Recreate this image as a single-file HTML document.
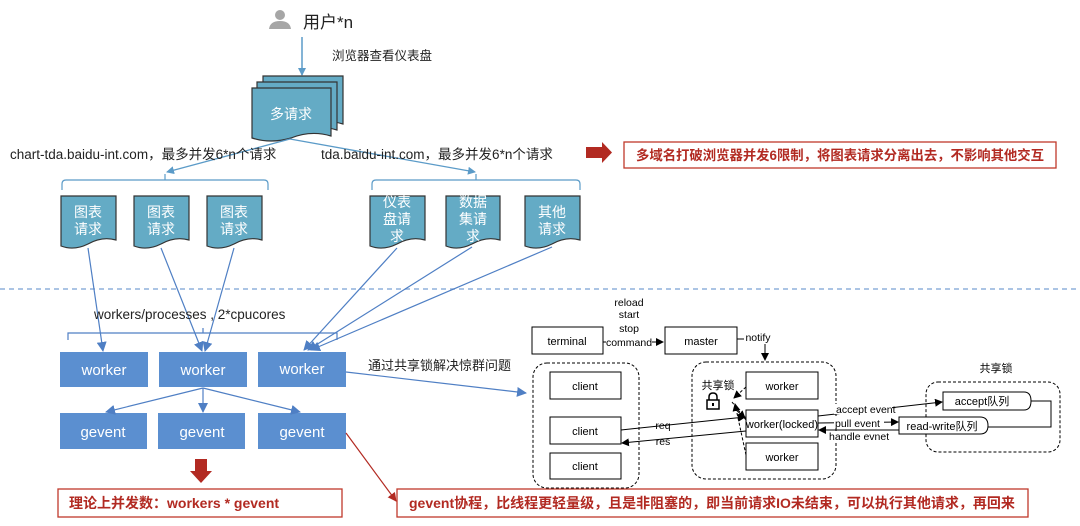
<!DOCTYPE html>
<html><head><meta charset="utf-8"><style>
html,body{margin:0;padding:0;background:#fff;}
svg{display:block;font-family:"Liberation Sans","Noto Sans CJK SC",sans-serif;}
</style></head><body>
<svg width="1080" height="526" viewBox="0 0 1080 526" xmlns="http://www.w3.org/2000/svg">
<defs>
<marker id="ab" markerWidth="8" markerHeight="8" refX="7" refY="4" orient="auto" markerUnits="userSpaceOnUse"><path d="M0,0 L8,4 L0,8 z" fill="#5b9bc8"/></marker>
<marker id="ab2" markerWidth="10" markerHeight="10" refX="9" refY="5" orient="auto" markerUnits="userSpaceOnUse"><path d="M0,0 L10,5 L0,10 z" fill="#4f7fc4"/></marker>
<marker id="ak" markerWidth="8" markerHeight="8" refX="7" refY="4" orient="auto" markerUnits="userSpaceOnUse"><path d="M0,0 L8,4 L0,8 z" fill="#000"/></marker>
<marker id="ar" markerWidth="9" markerHeight="9" refX="8" refY="4.5" orient="auto" markerUnits="userSpaceOnUse"><path d="M0,0 L9,4.5 L0,9 z" fill="#b22a22"/></marker>
</defs>

<circle cx="280" cy="15" r="5" fill="#a6a6a6"/>
<path d="M269,29 Q270,21 280,21 Q290,21 291,29 z" fill="#a6a6a6"/>
<text x="303" y="28" font-size="17" fill="#222">用户*n</text>
<line x1="302" y1="37" x2="302" y2="75" stroke="#5b9bc8" stroke-width="1.5" marker-end="url(#ab)"/>
<text x="332" y="60" font-size="12.5" fill="#222">浏览器查看仪表盘</text>

<path d="M263,76 H343 V124 Q323,118 303,126 Q283,132 263,126 z" fill="#64abc5" stroke="#333" stroke-width="1.2"/>
<path d="M257,82 H337 V130 Q317,124 297,132 Q277,138 257,132 z" fill="#64abc5" stroke="#333" stroke-width="1.2"/>
<path d="M252,88 H331 V136 Q311,130 291,138 Q271,144 252,138 z" fill="#64abc5" stroke="#333" stroke-width="1.2"/>
<text x="291" y="119" font-size="14" fill="#fff" text-anchor="middle">多请求</text>

<line x1="290" y1="139" x2="167" y2="172" stroke="#5b9bc8" stroke-width="1.3" marker-end="url(#ab)"/>
<line x1="290" y1="139" x2="475" y2="172" stroke="#5b9bc8" stroke-width="1.3" marker-end="url(#ab)"/>
<text x="10" y="159" font-size="13.5" fill="#222">chart-tda.baidu-int.com，最多并发6*n个请求</text>
<text x="321" y="159" font-size="13.5" fill="#222">tda.baidu-int.com，最多并发6*n个请求</text>

<path d="M62,190 V184 Q62,180 66,180 H264 Q268,180 268,184 V190 M165,180 V174" fill="none" stroke="#5b9bc8" stroke-width="1.2"/>
<path d="M372,190 V184 Q372,180 376,180 H576 Q580,180 580,184 V190 M476,180 V174" fill="none" stroke="#5b9bc8" stroke-width="1.2"/>

<g fill="#64abc5" stroke="#333" stroke-width="1.2">
<path d="M61,196 H116 V240 Q102,236 88,244 Q74,251 61,246 z"/>
<path d="M134,196 H189 V240 Q175,236 161,244 Q147,251 134,246 z"/>
<path d="M207,196 H262 V240 Q248,236 234,244 Q220,251 207,246 z"/>
<path d="M370,196 H425 V240 Q411,236 397,244 Q383,251 370,246 z"/>
<path d="M446,196 H500 V240 Q486,236 472,244 Q458,251 446,246 z"/>
<path d="M525,196 H580 V240 Q566,236 552,244 Q538,251 525,246 z"/>
</g>
<g font-size="14" fill="#fff" text-anchor="middle">
<text x="88" y="217">图表</text><text x="88" y="234">请求</text>
<text x="161" y="217">图表</text><text x="161" y="234">请求</text>
<text x="234" y="217">图表</text><text x="234" y="234">请求</text>
<text x="397" y="207">仪表</text><text x="397" y="224">盘请</text><text x="397" y="241">求</text>
<text x="473" y="207">数据</text><text x="473" y="224">集请</text><text x="473" y="241">求</text>
<text x="552" y="217">其他</text><text x="552" y="234">请求</text>
</g>

<line x1="0" y1="289" x2="1080" y2="289" stroke="#8fb0dc" stroke-width="1.5" stroke-dasharray="5,4"/>

<g stroke="#4f7fc4" stroke-width="1.2" marker-end="url(#ab2)">
<line x1="88" y1="248" x2="103" y2="351"/>
<line x1="161" y1="248" x2="202" y2="351"/>
<line x1="234" y1="248" x2="205" y2="351"/>
<line x1="397" y1="248" x2="304" y2="350"/>
<line x1="472" y1="247" x2="308" y2="350"/>
<line x1="552" y1="247" x2="311" y2="350"/>
</g>
<text x="94" y="319" font-size="13.5" fill="#222">workers/processes , 2*cpucores</text>
<path d="M68,340 V333 H337 V340 M203,333 V328" fill="none" stroke="#4f7fc4" stroke-width="1.2"/>

<g fill="#5b8fd0">
<rect x="60" y="352" width="88" height="35"/>
<rect x="159" y="352" width="88" height="35"/>
<rect x="258" y="352" width="88" height="35"/>
<rect x="60" y="413" width="87" height="36"/>
<rect x="158" y="413" width="87" height="36"/>
<rect x="258" y="413" width="88" height="36"/>
</g>
<g font-size="15" fill="#fff" text-anchor="middle">
<text x="104" y="375">worker</text><text x="203" y="375">worker</text><text x="302" y="374">worker</text>
<text x="103" y="437">gevent</text><text x="202" y="437">gevent</text><text x="302" y="437">gevent</text>
</g>
<g stroke="#4f7fc4" stroke-width="1.2" marker-end="url(#ab2)">
<line x1="203" y1="388" x2="106" y2="412"/>
<line x1="203" y1="388" x2="203" y2="412"/>
<line x1="203" y1="388" x2="300" y2="412"/>
</g>

<path d="M195,459 H207 V471 H212 L201,483 L190,471 H195 z" fill="#b22a22"/>
<rect x="58" y="489" width="284" height="28" fill="#fff" stroke="#c0392b" stroke-width="1.3"/>
<text x="69" y="508" font-size="14" font-weight="bold" fill="#b22a22">理论上并发数：workers * gevent</text>

<line x1="346" y1="433" x2="396" y2="501" stroke="#b22a22" stroke-width="1.2" marker-end="url(#ar)"/>
<rect x="397" y="489" width="631" height="28" fill="#fff" stroke="#c0392b" stroke-width="1.3"/>
<text x="409" y="508" font-size="14" font-weight="bold" fill="#b22a22">gevent协程，比线程更轻量级，且是非阻塞的，即当前请求IO未结束，可以执行其他请求，再回来</text>

<path d="M586,147 H602 V142 L612,152.5 L602,163 V158 H586 z" fill="#b22a22"/>
<rect x="624" y="142" width="432" height="26" fill="#fff" stroke="#c0392b" stroke-width="1.3"/>
<text x="636" y="160" font-size="13.5" font-weight="bold" fill="#b22a22" textLength="408" lengthAdjust="spacingAndGlyphs">多域名打破浏览器并发6限制，将图表请求分离出去，不影响其他交互</text>

<text x="368" y="370" font-size="13" fill="#222">通过共享锁解决惊群问题</text>
<line x1="346" y1="372" x2="526" y2="393" stroke="#4f7fc4" stroke-width="1.2" marker-end="url(#ab2)"/>

<g font-size="10.5" fill="#000" text-anchor="middle">
<text x="629" y="306">reload</text><text x="629" y="318">start</text><text x="629" y="332">stop</text>
</g>
<g fill="#fff" stroke="#000" stroke-width="1">
<rect x="532" y="327" width="71" height="27"/>
<rect x="665" y="327" width="72" height="27"/>
</g>
<text x="567" y="345" font-size="11" text-anchor="middle">terminal</text>
<text x="701" y="345" font-size="11" text-anchor="middle">master</text>
<line x1="603" y1="342" x2="663" y2="342" stroke="#000" marker-end="url(#ak)"/>
<rect x="606" y="336" width="46" height="11" fill="#fff"/>
<text x="629" y="346" font-size="10.5" text-anchor="middle">command</text>
<path d="M737,339 H765 V360" fill="none" stroke="#000" marker-end="url(#ak)"/>
<rect x="744" y="332" width="28" height="12" fill="#fff"/>
<text x="758" y="341" font-size="10.5" text-anchor="middle">notify</text>

<g fill="none" stroke="#000" stroke-dasharray="3,2">
<rect x="533" y="363" width="106" height="125" rx="14"/>
<rect x="692" y="362" width="144" height="117" rx="14"/>
<rect x="926" y="382" width="134" height="70" rx="12"/>
</g>
<g fill="#fff" stroke="#000">
<rect x="550" y="372" width="71" height="27"/>
<rect x="550" y="417" width="71" height="27"/>
<rect x="550" y="453" width="71" height="26"/>
<rect x="746" y="372" width="72" height="27"/>
<rect x="746" y="410" width="72" height="27"/>
<rect x="746" y="443" width="72" height="27"/>
<path d="M943,392 H1024 Q1031,392 1031,401 Q1031,410 1024,410 H943 z"/>
<path d="M899,417 H980 Q988,417 988,425.5 Q988,434 980,434 H899 z"/>
</g>
<g font-size="11" text-anchor="middle" fill="#000">
<text x="585" y="390">client</text><text x="585" y="435">client</text><text x="585" y="470">client</text>
<text x="782" y="390">worker</text><text x="782" y="428">worker(locked)</text><text x="782" y="461">worker</text>
<text x="982" y="405">accept队列</text><text x="942" y="430">read-write队列</text>
<text x="996" y="372">共享锁</text><text x="718" y="389">共享锁</text>
</g>
<path d="M709,400 V397 Q709,393 713,393 Q717,393 717,397 V400" fill="none" stroke="#000" stroke-width="1.5"/>
<rect x="707" y="400" width="12" height="9" fill="#fff" stroke="#000" stroke-width="1.5"/>
<rect x="712" y="403" width="2" height="3" fill="#000"/>
<g stroke="#000" stroke-dasharray="3,2" fill="none">
<line x1="746" y1="387" x2="734" y2="398" marker-end="url(#ak)"/>
<line x1="746" y1="455" x2="735" y2="404" marker-end="url(#ak)"/>
<line x1="746" y1="420" x2="732" y2="402"/>
</g>
<line x1="734" y1="408" x2="745" y2="418" stroke="#000" marker-end="url(#ak)"/>

<line x1="621" y1="430" x2="745" y2="417" stroke="#000" marker-end="url(#ak)"/>
<line x1="746" y1="431" x2="622" y2="443" stroke="#000" marker-end="url(#ak)"/>
<g font-size="10.5" fill="#000" text-anchor="middle">
<text x="663" y="429" >req</text><text x="663" y="445">res</text>
</g>
<line x1="818" y1="416" x2="942" y2="402" stroke="#000" marker-end="url(#ak)"/>
<line x1="818" y1="423" x2="898" y2="422" stroke="#000" marker-end="url(#ak)"/>
<line x1="899" y1="430" x2="819" y2="430" stroke="#000" marker-end="url(#ak)"/>
<g font-size="10.5" fill="#000">
<rect x="834" y="404" width="58" height="10" fill="#fff"/>
<text x="836" y="413">accept event</text>
<rect x="834" y="418" width="50" height="10" fill="#fff"/>
<text x="835" y="427">pull event</text>
<rect x="828" y="431" width="60" height="10" fill="#fff"/>
<text x="829" y="440">handle evnet</text>
</g>
<path d="M1031,401 H1051 V427 H988" fill="none" stroke="#000"/>
</svg>
</body></html>
